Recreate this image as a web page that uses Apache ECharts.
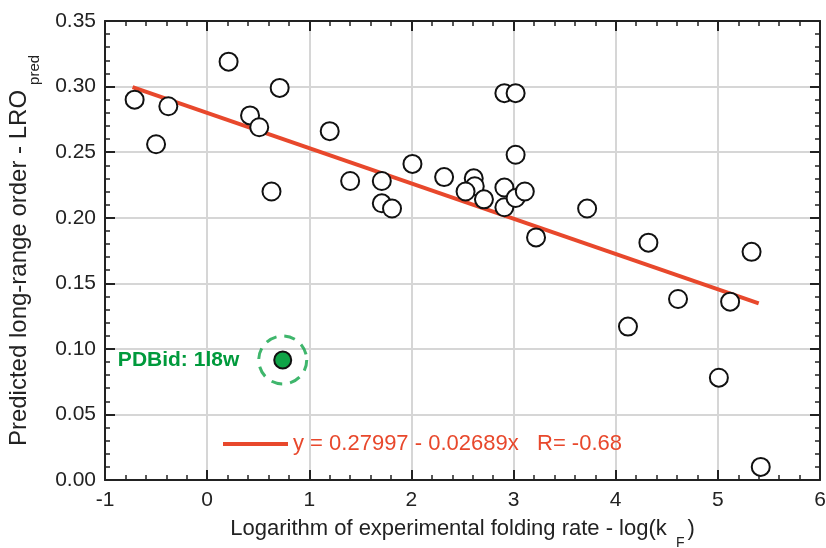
<!DOCTYPE html>
<html>
<head>
<meta charset="utf-8">
<script src="https://cdn.jsdelivr.net/npm/echarts@6/dist/echarts.min.js"></script>
<style>
html,body{margin:0;padding:0;background:#fff;}
#chart{width:826px;height:548px;}
</style>
</head>
<body>
<div id="chart"></div>
<script>
// ---- data ----
const xVals = [-0.71,-0.50,-0.38,0.21,0.42,0.51,0.63,0.71,1.20,1.40,1.71,1.71,1.81,2.01,2.32,2.61,2.62,2.53,2.71,2.91,2.91,3.02,3.11,3.02,2.91,3.02,3.22,3.72,4.32,5.33,4.12,4.61,5.12,5.01,5.42];
const yVals = [0.290,0.256,0.285,0.319,0.278,0.269,0.220,0.299,0.266,0.228,0.228,0.211,0.207,0.241,0.231,0.230,0.224,0.220,0.214,0.223,0.208,0.215,0.220,0.248,0.295,0.295,0.185,0.207,0.181,0.174,0.117,0.138,0.136,0.078,0.010];
const highlightX = [0.74];
const highlightY = [0.0915];
const highlightLabel = 'PDBid: 1l8w';
const fitIntercept = 0.27997;
const fitSlope = -0.02689;
const fitR = -0.68;
const fitLabel = 'y = 0.27997 - 0.02689x   R= -0.68';
const xTicks = [-1,0,1,2,3,4,5,6];
const yTicks = [0,0.05,0.10,0.15,0.20,0.25,0.30,0.35];

// ---- build ----
const pts = xVals.map((x,i)=>[x,yVals[i]]);
const fitXmin = Math.min(...xVals) - 0.02;
const fitXmax = Math.max(...xVals) - 0.02;
const fitLine = [[fitXmin, fitIntercept + fitSlope*fitXmin],[fitXmax, fitIntercept + fitSlope*fitXmax]];
const hl = highlightX.map((x,i)=>[x,highlightY[i]]);

const FONT = '"Liberation Sans", Arial, Helvetica, sans-serif';
const RED = '#e8482c';
const GREEN = '#0fa447';
const GREEN_TXT = '#009a3c';
const AX = '#222';

function baseAxis(extra){
  return Object.assign({
    type:'value',
    axisLine:{show:true,onZero:false,lineStyle:{color:AX,width:2}},
    axisTick:{show:true,inside:true,length:10,lineStyle:{color:AX,width:2}},
    minorTick:{show:true,splitNumber:5,length:5,lineStyle:{color:AX,width:1.5}},
    splitLine:{show:false},
    axisLabel:{show:false}
  }, extra);
}

const chart = echarts.init(document.getElementById('chart'));
chart.setOption({
  animation:false,
  backgroundColor:'#fff',
  grid:{left:105,right:6,top:21,bottom:68,containLabel:false,outerBoundsMode:'none'},
  xAxis:[
    baseAxis({
      position:'bottom', min:xTicks[0], max:xTicks[xTicks.length-1], interval:1,
      splitLine:{show:true,lineStyle:{color:'#d6d6d6',width:2}},
      axisLabel:{show:true,margin:10,color:AX,fontSize:21,fontFamily:FONT},
      name:'{a|Logarithm of experimental folding rate - log(k }{s|F}{a|)}',
      nameLocation:'middle', nameGap:38,
      nameTextStyle:{fontFamily:FONT,color:AX,
        rich:{
          a:{fontSize:22,fontFamily:FONT,color:AX,lineHeight:24,verticalAlign:'top'},
          s:{fontSize:14,fontFamily:FONT,color:AX,padding:[18,3,0,3],verticalAlign:'top'}
        }}
    }),
    baseAxis({position:'top', min:xTicks[0], max:xTicks[xTicks.length-1], interval:1})
  ],
  yAxis:[
    baseAxis({
      position:'left', min:yTicks[0], max:yTicks[yTicks.length-1], interval:0.05,
      splitLine:{show:true,lineStyle:{color:'#d6d6d6',width:2}},
      axisLabel:{show:true,margin:9,color:AX,fontSize:21,fontFamily:FONT,formatter:v=>v.toFixed(2)},
      name:'{a|Predicted long-range order - LRO}{s|pred}',
      nameLocation:'middle', nameGap:63, nameRotate:90,
      nameTextStyle:{fontFamily:FONT,color:AX,
        rich:{
          a:{fontSize:24,fontFamily:FONT,color:AX,lineHeight:26,verticalAlign:'top'},
          s:{fontSize:15,fontFamily:FONT,color:AX,padding:[20,0,0,5],verticalAlign:'top'}
        }}
    }),
    baseAxis({position:'right', min:yTicks[0], max:yTicks[yTicks.length-1], interval:0.05})
  ],
  legend:{
    show:true, left:218, top:427, icon:'rect', itemWidth:65, itemHeight:4,
    itemGap:5,
    data:[{name:fitLabel}],
    textStyle:{color:RED,fontSize:22,fontFamily:FONT,lineHeight:24}
  },
  series:[
    {
      name:fitLabel, type:'line', data:fitLine, symbol:'none',
      lineStyle:{color:RED,width:4}, itemStyle:{color:RED}, z:3
    },
    {
      name:'points', type:'scatter', data:pts, symbol:'circle', symbolSize:18,
      itemStyle:{color:'#fff',borderColor:'#111',borderWidth:2,opacity:1}, z:4
    },
    {
      name:'ring', type:'scatter', data:hl, symbol:'circle', symbolSize:48,
      itemStyle:{color:'rgba(0,0,0,0)',borderColor:GREEN,borderWidth:3,borderType:[11,8]},
      label:{show:true,position:'left',distance:18,formatter:highlightLabel,
        color:GREEN_TXT,fontSize:21,fontWeight:'bold',fontFamily:FONT,textBorderWidth:0,opacity:1},
      z:4
    },
    {
      name:'highlight', type:'scatter', data:hl, symbol:'circle', symbolSize:17,
      itemStyle:{color:GREEN,borderColor:'#111',borderWidth:2,opacity:1}, z:5
    }
  ]
});
</script>
</body>
</html>
